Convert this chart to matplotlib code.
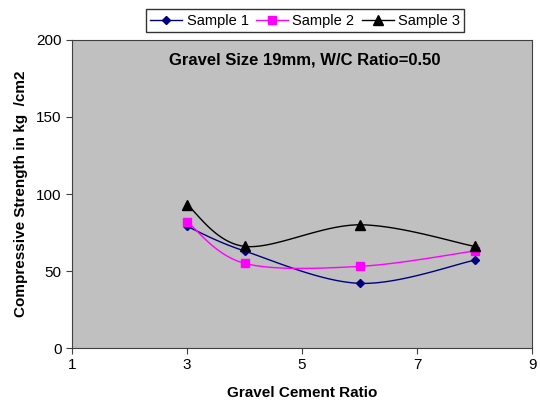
import numpy as np
import matplotlib
matplotlib.use("Agg")
from matplotlib import pyplot as plt

plt.rcParams['font.family'] = ['Liberation Sans', 'DejaVu Sans']

gc_ratio = [3, 4, 6, 8]
sample1 = [79, 63, 42, 57]
sample2 = [82, 55, 53, 63]
sample3 = [93, 66, 80, 66]

series = [
    ("Sample 1", sample1, "#000080", "D", 4.5),
    ("Sample 2", sample2, "#FF00FF", "s", 5.5),
    ("Sample 3", sample3, "black", "^", 6.5),
]


def smooth(x, y, sx=57.5, sy=1.54, n=30):
    # Excel-style smoothed line: Catmull-Rom bezier in pixel-ish space
    p = np.column_stack([np.asarray(x, float) * sx, np.asarray(y, float) * sy])
    pts = [p[0]]
    for i in range(len(p) - 1):
        p0 = p[i - 1] if i > 0 else p[i]
        p1, p2 = p[i], p[i + 1]
        p3 = p[i + 2] if i + 2 < len(p) else p[i + 1]
        c1 = p1 + (p2 - p0) / 6
        c2 = p2 - (p3 - p1) / 6
        t = np.linspace(0, 1, n)[1:, None]
        seg = ((1 - t) ** 3) * p1 + 3 * ((1 - t) ** 2) * t * c1 + 3 * (1 - t) * t ** 2 * c2 + t ** 3 * p2
        pts.extend(seg)
    pts = np.array(pts)
    return pts[:, 0] / sx, pts[:, 1] / sy


fig = plt.figure(figsize=(5.4, 4.08), dpi=100)
ax = fig.add_axes([0.1333, 0.147, 0.852, 0.755])
ax.set_facecolor("#C0C0C0")

handles = []
for name, vals, col, mk, ms in series:
    sxs, sys_ = smooth(gc_ratio, vals)
    ax.plot(sxs, sys_, color=col, lw=1)
    ax.plot(gc_ratio, vals, ls="none", marker=mk, color=col, ms=ms)
    h, = ax.plot([], [], color=col, lw=1, marker=mk, ms=ms)
    handles.append(h)
    h.set_label(name)

ax.set_xlim(1, 9)
ax.set_ylim(0, 200)
ax.set_xticks([1, 3, 5, 7, 9])
ax.set_yticks([0, 50, 100, 150, 200])
ax.tick_params(labelsize=11, direction="out", length=4, color="#404040")
for s in ax.spines.values():
    s.set_color("#404040")

ax.set_xlabel("Gravel Cement Ratio", fontsize=11, fontweight="bold", labelpad=10)
ax.set_ylabel("Compressive Strength in kg  /cm2", fontsize=11, fontweight="bold", labelpad=6)
ax.text(0.505, 0.935, "Gravel Size 19mm, W/C Ratio=0.50", transform=ax.transAxes,
        ha="center", va="center", fontsize=12, fontweight="bold")

leg = fig.legend(handles=handles, loc="upper center", bbox_to_anchor=(0.565, 0.995),
                 ncol=3, fontsize=10.5, frameon=True, fancybox=False, edgecolor="black",
                 handlelength=2.2, handletextpad=0.3, columnspacing=0.5, borderpad=0.3)
leg.get_frame().set_linewidth(1)

fig.savefig("out.png", dpi=100)
